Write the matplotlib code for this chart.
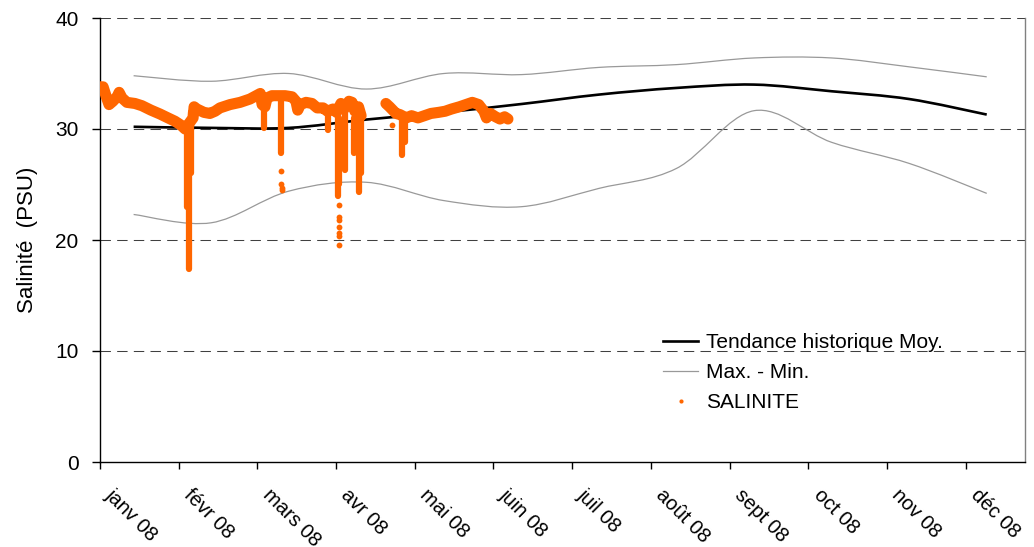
import numpy as np
import matplotlib
matplotlib.use("Agg")
import matplotlib.pyplot as plt
import matplotlib.transforms as mtrans
from matplotlib.path import Path
from matplotlib.patches import PathPatch
from matplotlib.lines import Line2D

plt.rcParams['font.family'] = ['Liberation Sans', 'DejaVu Sans']

# ---------------- data ----------------
month_labels = ['janv 08', 'févr 08', 'mars 08', 'avr 08', 'mai 08', 'juin 08',
                'juil 08', 'août 08', 'sept 08', 'oct 08', 'nov 08', 'déc 08']

# historical trend (day of year)
hist_day = [13, 43, 73, 103, 133, 163, 193, 223, 253, 283, 313, 343]
hist_mean = [30.2, 30.1, 30.1, 30.85, 31.5, 32.25, 33.1, 33.7, 34.0, 33.4, 32.7, 31.3]
hist_max = [34.8, 34.3, 35.0, 33.6, 35.0, 34.9, 35.55, 35.8, 36.4, 36.4, 35.6, 34.7]
hist_min = [22.3, 21.55, 24.4, 25.2, 23.55, 23.0, 24.65, 26.45, 31.65, 28.8, 26.9, 24.2]

# measured salinity trace (day of year, PSU); NaN = gap in record
sal_day = [0, 1.2, 2.3, 3.5, 5.0, 6.6, 7.4, 8.5, 10.4, 13.5, 16.2, 19.7, 23.2, 26.3,
           29.0, 31.3, 32.9, 36.0, 36.4, 37.5, 40.2, 42.5, 44.5, 46.4, 50.3, 54.2,
           58.0, 60.4, 62.0, 62.7, 63.8, 64.6, 66.5, 68.9, 71.6, 74.3, 75.8, 76.5,
           77.5, 79.7, 82.0, 84.0, 86.3, 88.0, 90.1, 91.5, 93.2, 94.4, 96.3, 97.5,
           98.6, 100.0, 101.0,
           np.nan,
           110.6, 112.0, 114.5, 116.0, 118.5, 120.5, 123.0, 125.5, 128.0, 131.0,
           133.5, 136.0, 139.0, 141.5, 144.0, 146.5, 148.5, 149.5, 151.0, 153.0,
           154.7, 156.5, 157.8]
sal_psu = [33.8, 33.8, 33.0, 32.2, 32.5, 32.9, 33.3, 32.8, 32.4, 32.3, 32.1, 31.7, 31.35, 31.0,
           30.7, 30.35, 30.0, 31.0, 32.0, 31.8, 31.5, 31.4, 31.6, 31.9, 32.2, 32.4,
           32.7, 33.0, 33.2, 32.2, 32.0, 32.8, 33.0, 33.0, 33.0, 32.9, 32.5, 31.7,
           32.2, 32.4, 32.3, 31.9, 31.9, 31.6, 31.8, 31.5, 32.3, 31.8, 32.5, 32.4,
           31.6, 32.0, 31.2,
           np.nan,
           32.3, 32.0, 31.4, 31.3, 31.0, 31.2, 31.0, 31.2, 31.4, 31.5,
           31.6, 31.8, 32.0, 32.2, 32.4, 32.2, 31.6, 31.0, 31.4, 31.1,
           30.9, 31.1, 30.9]

# sharp drops in the record: day, value before drop, lowest value
drop_day = [33.5, 34.4, 35.3, 63.5, 70.0, 88.2, 91.9, 92.4, 94.8, 98.4, 100.2, 100.9, 116.8, 117.8]
drop_top = [30.3, 28.0, 31.5, 32.5, 32.5, 31.5, 31.0, 31.0, 31.5, 31.0, 32.0, 31.0, 31.2, 31.2]
drop_low = [23.0, 17.4, 26.0, 30.1, 27.8, 29.9, 24.0, 25.0, 26.3, 27.8, 24.3, 26.0, 27.7, 28.8]

# isolated readings
dot_day = [70.2, 70.2, 70.3, 70.4, 92.5, 92.5, 92.6, 92.5, 92.6, 92.6, 92.5, 113.0]
dot_psu = [26.2, 25.0, 24.7, 24.5, 23.15, 22.1, 21.8, 21.2, 20.6, 20.4, 19.55, 30.4]

ORANGE = '#FF6600'
GREY = '#999999'

# ---------------- figure ----------------
fig = plt.figure(figsize=(10.34, 5.47), dpi=100)
ax = fig.add_axes([100/1034, 1 - 462/547, 925/1034, 444/547])

month_len = 30.44
ax.set_xlim(0, 357.8)
ax.set_ylim(0, 40)


def smooth_path(xs, ys):
    pts = np.column_stack([xs, ys]).astype(float)
    n = len(pts)
    verts = [pts[0]]
    codes = [Path.MOVETO]
    for i in range(n - 1):
        p0 = pts[i - 1] if i > 0 else pts[i]
        p1 = pts[i]
        p2 = pts[i + 1]
        p3 = pts[i + 2] if i + 2 < n else pts[i + 1]
        verts += [p1 + (p2 - p0) / 6, p2 - (p3 - p1) / 6, p2]
        codes += [Path.CURVE4] * 3
    return Path(verts, codes)


# grid
for v in [10, 20, 30, 40]:
    ax.axhline(v, color='#404040', lw=0.75, ls=(0, (10, 6)), zorder=1)

ax.add_patch(PathPatch(smooth_path(hist_day, hist_max), fill=False,
                       edgecolor=GREY, lw=0.9, zorder=2))
ax.add_patch(PathPatch(smooth_path(hist_day, hist_min), fill=False,
                       edgecolor=GREY, lw=0.9, zorder=2))
ax.add_patch(PathPatch(smooth_path(hist_day, hist_mean), fill=False,
                       edgecolor='black', lw=1.9, zorder=3))

ax.plot(sal_day, sal_psu, color=ORANGE, lw=8.0, solid_capstyle='round',
        solid_joinstyle='round', zorder=4)
ax.vlines(drop_day, drop_low, drop_top, color=ORANGE, lw=4.5,
          capstyle='round', zorder=4)
ax.plot(dot_day, dot_psu, color=ORANGE, ls='none', marker='o', ms=4.2,
        mec='none', zorder=4)

# axes styling
ax.spines['top'].set_visible(False)
ax.spines['right'].set_color('#808080')
ax.spines['left'].set_color('black')
ax.spines['bottom'].set_color('black')
for s in ['left', 'bottom', 'right']:
    ax.spines[s].set_linewidth(1.0)

ax.set_yticks([0, 10, 20, 30, 40])
ax.set_yticklabels(['0', '10', '20', '30', '40'])
ax.tick_params(axis='y', length=5.5, width=1, pad=10, labelsize=15)
ax.set_xticks([i * month_len for i in range(12)])
ax.set_xticklabels(month_labels, rotation=-45, ha='left', va='top',
                   rotation_mode='anchor')
ax.tick_params(axis='x', length=5, width=1, pad=12, labelsize=14.5)
offset = mtrans.ScaledTranslation(0.15, 0, fig.dpi_scale_trans)
for lab in ax.get_xticklabels():
    lab.set_transform(lab.get_transform() + offset)

ax.set_ylabel('Salinité  (PSU)', fontsize=16, labelpad=12)

handles = [Line2D([], [], color='black', lw=1.9),
           Line2D([], [], color=GREY, lw=0.9),
           Line2D([], [], color=ORANGE, ls='none', marker='o', ms=3, mec='none')]
labels = ['Tendance historique Moy.', 'Max. - Min.', 'SALINITE']
ax.legend(handles, labels, loc='upper left', bbox_to_anchor=(0.6086, 0.291),
          frameon=False, fontsize=15, handlelength=1.7, handletextpad=0.35,
          labelspacing=0.53, borderpad=0, borderaxespad=0)

fig.savefig('out.png', dpi=100)
